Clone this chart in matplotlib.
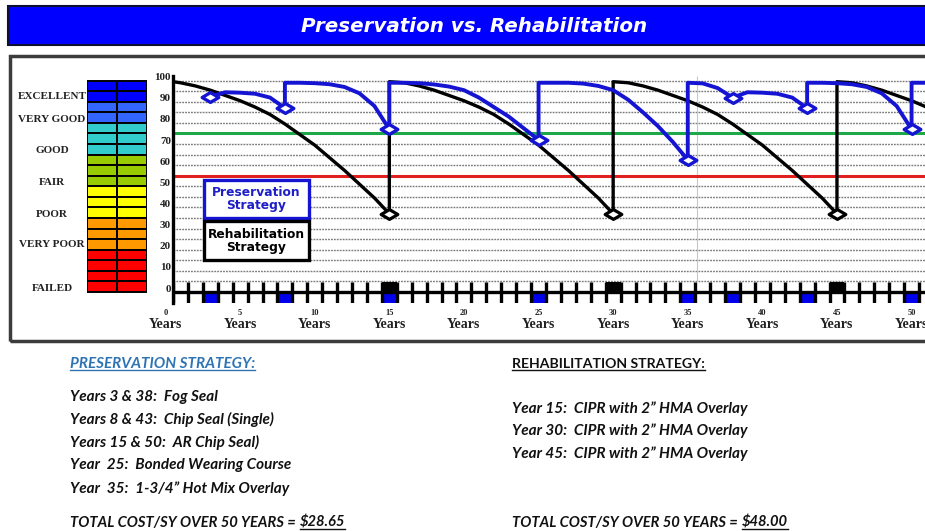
import matplotlib
matplotlib.use("Agg")
import matplotlib.pyplot as plt
import matplotlib.transforms as mtransforms
from matplotlib.patches import Rectangle
from matplotlib.lines import Line2D
from matplotlib.path import Path

# --- data ---
# rehabilitation strategy (black line), condition index by year
rehab_years = [0.5, 1, 2, 3, 4, 5, 6, 7, 8, 9, 10, 11, 12, 13, 14, 15,
               15, 16, 17, 18, 19, 20, 21, 22, 23, 24, 25, 26, 27, 28, 29, 30,
               30, 31, 32, 33, 34, 35, 36, 37, 38, 39, 40, 41, 42, 43, 44, 45,
               45, 46, 47, 48, 49, 50, 51]
rehab_values = [99.5, 99, 97.5, 95.5, 93, 90.5, 87.5, 84, 79.5, 74.5, 69.5, 63.5, 57.5, 51, 44.5, 37,
                99.5, 99, 97.5, 95.5, 93, 90.5, 87.5, 84, 79.5, 74.5, 69.5, 63.5, 57.5, 51, 44.5, 37,
                99.5, 99, 97.5, 95.5, 93, 90.5, 87.5, 84, 79.5, 74.5, 69.5, 63.5, 57.5, 51, 44.5, 37,
                99.5, 99, 97.5, 95.5, 93, 90.5, 87.5]
rehab_treat_years = [15, 30, 45]
rehab_treat_values = [37, 37, 37]

# preservation strategy (blue line)
pres_years = [3, 4, 5, 6, 7, 8,
              8, 9, 10, 11, 12, 13, 14, 15,
              15, 16, 17, 18, 19, 20, 21, 22, 23, 24, 25,
              25, 26, 27, 28, 29, 30, 31, 32, 33, 34, 35,
              35, 36, 37, 38,
              39, 40, 41, 42, 43,
              43, 44, 45, 46, 47, 48, 49, 50,
              50, 51]
pres_values = [92.5, 94.5, 94.3, 93.8, 92, 87,
               99, 99, 98.8, 98.3, 97, 94, 88, 77,
               99, 99, 98.8, 98.2, 97.2, 95.5, 92, 87.5, 83, 77.5, 72,
               99, 99, 99, 98.6, 97.5, 95.5, 91, 85, 78.5, 71, 62.5,
               99, 98.7, 96.5, 92,
               94.5, 94.3, 93.8, 92, 87,
               99, 99, 98.8, 98.3, 97, 94, 88, 77,
               99, 99]
pres_treat_years = [3, 8, 15, 25, 35, 38, 43, 50]
pres_treat_values = [92.5, 87, 77, 72, 62.5, 92, 87, 77]

grid_levels = list(range(5, 101, 5))
good_line = 75
fair_line = 55
y_ticks = list(range(0, 101, 10))
year_ticks = list(range(0, 51, 5))
stray_line_year = 35.6

condition_labels = ["EXCELLENT", "VERY GOOD", "GOOD", "FAIR", "POOR", "VERY POOR", "FAILED"]
condition_levels = [92.3, 81.7, 66.9, 52, 36.9, 22.3, 1.7]
scale_colors = (["#0000FF"] * 2 + ["#3366FF"] * 2 + ["#33CCCC"] * 3 + ["#99CC00"] * 3
                + ["#FFFF00"] * 3 + ["#FF9900"] * 3 + ["#FF0000"] * 4)

pres_header = "PRESERVATION STRATEGY:"
pres_items = ["Years 3 & 38:  Fog Seal",
              "Years 8 & 43:  Chip Seal (Single)",
              "Years 15 & 50:  AR Chip Seal)",
              "Year  25:  Bonded Wearing Course",
              "Year  35:  1-3/4\u201d Hot Mix Overlay"]
pres_total = "\\$28.65"
rehab_header = "REHABILITATION STRATEGY:"
rehab_items = ["Year 15:  CIPR with 2\u201d HMA Overlay",
               "Year 30:  CIPR with 2\u201d HMA Overlay",
               "Year 45:  CIPR with 2\u201d HMA Overlay"]
rehab_total = "\\$48.00"
total_prefix = "TOTAL COST/SY OVER 50 YEARS ="

BLUE = "#1414D2"
W, H = 925, 531


def fx(px):
    return px / W


def fy(py):
    return 1 - py / H


fig = plt.figure(figsize=(W / 100, H / 100), dpi=100)
fig.patch.set_facecolor("white")

# title bar
fig.add_artist(Rectangle((fx(8), fy(45)), 1.0, fy(6) - fy(45), transform=fig.transFigure,
                         facecolor="#0000FF", edgecolor="#101030", lw=1.5))
fig.text(fx(474), fy(26), "Preservation vs. Rehabilitation", color="white", fontsize=14.3,
         weight="bold", style="italic", family="DejaVu Sans", ha="center", va="center")

# chart frame
fig.add_artist(Rectangle((fx(10), fy(341)), 1.0, fy(56) - fy(341), transform=fig.transFigure,
                         fill=False, edgecolor="#3c3c3c", lw=2.5))

Y0, Y1 = -5.2, 102.2
X0, X1 = 0.5, 50.9
ax = fig.add_axes([fx(173), fy(303), 1 - fx(173), fy(76) - fy(303)])
ax.set_xlim(X0, X1)
ax.set_ylim(Y0, Y1)
ax.axis("off")

for g in grid_levels:
    ax.axhline(g, color="#7a7a7a", lw=1.0, ls=(0, (1.3, 0.8)), zorder=1)
ax.axhline(good_line, color="#1EA84A", lw=2.2, zorder=2)
ax.axhline(fair_line, color="#E02020", lw=2.2, zorder=2)
ax.vlines(stray_line_year, 5, Y1, color="#c8c8c8", lw=0.8, zorder=1)

# treatment markers under / over the axis
ax.bar(pres_treat_years, -Y0, bottom=Y0, width=1, color="#0000EE", zorder=3)
ax.bar(rehab_treat_years, 4.7, bottom=0, width=1, color="black", zorder=3)

ax.axhline(0, color="black", lw=2.4, zorder=4)
ax.plot([X0, X0], [Y0, Y1], color="black", lw=2.4, zorder=4, clip_on=False)
ax.vlines([k + 0.5 for k in range(0, 51)], Y0, 4.7, colors="black", lw=2.4, zorder=4)

ax.plot(rehab_years, rehab_values, color="black", lw=2.4, zorder=5,
        solid_joinstyle="round", solid_capstyle="butt")
ax.plot(pres_years, pres_values, color=BLUE, lw=2.8, zorder=6,
        solid_joinstyle="round", solid_capstyle="butt")

diamond = Path([(0, 1), (1.7, 0), (0, -1), (-1.7, 0), (0, 1)],
               [Path.MOVETO, Path.LINETO, Path.LINETO, Path.LINETO, Path.CLOSEPOLY])
ax.plot(rehab_treat_years, rehab_treat_values, ls="none", marker=diamond, ms=12,
        mfc="white", mec="black", mew=2.3, zorder=7)
ax.plot(pres_treat_years, pres_treat_values, ls="none", marker=diamond, ms=12,
        mfc="white", mec=BLUE, mew=2.4, zorder=8)

serif = "Liberation Serif"
t_x = mtransforms.blended_transform_factory(ax.transData, fig.transFigure)
for yr in year_ticks:
    ax.text(yr, fy(313), str(yr), transform=t_x, ha="center", va="center",
            fontsize=6, family=serif, weight="bold", color="#222222")
    ax.text(yr, fy(324), "Years", transform=t_x, ha="center", va="center",
            fontsize=10, family=serif, weight="bold", color="#222222")

t_y = mtransforms.blended_transform_factory(fig.transFigure, ax.transData)
t_y_up = mtransforms.offset_copy(t_y, fig=fig, x=0, y=3, units="dots")
for v in y_ticks:
    ax.text(fx(171), v, str(v), transform=t_y_up, ha="right", va="center",
            fontsize=8, family=serif, weight="bold", color="#222222")

# condition color scale
ax_bar = fig.add_axes([fx(87), fy(303), fx(147) - fx(87), fy(76) - fy(303)])
ax_bar.set_xlim(0, 2)
ax_bar.set_ylim(Y0, Y1)
ax_bar.axis("off")
for i, c in enumerate(scale_colors):
    top = 100 - 5 * i
    for col in (0, 1):
        ax_bar.add_patch(Rectangle((col, top - 5), 1, 5, facecolor=c,
                                   edgecolor="black", lw=1.4))
t_bar = mtransforms.blended_transform_factory(fig.transFigure, ax_bar.transData)
for lab, lev in zip(condition_labels, condition_levels):
    ax_bar.text(fx(52), lev, lab, transform=t_bar, ha="center", va="center",
                fontsize=8, family=serif, weight="bold", color="#222222", clip_on=False)

# legend boxes
fig.add_artist(Rectangle((fx(204), fy(218)), fx(309) - fx(204), fy(180) - fy(218),
                         transform=fig.transFigure, facecolor="white", edgecolor=BLUE,
                         lw=2.4, zorder=10))
fig.text(fx(256.5), fy(199), "Preservation\nStrategy", ha="center", va="center",
         color="#1F1FC8", fontsize=8.8, weight="bold", family="DejaVu Sans",
         linespacing=1.0, zorder=11)
fig.add_artist(Rectangle((fx(204), fy(260)), fx(309) - fx(204), fy(221) - fy(260),
                         transform=fig.transFigure, facecolor="white", edgecolor="black",
                         lw=2.4, zorder=10))
fig.text(fx(256.5), fy(240.5), "Rehabilitation\nStrategy", ha="center", va="center",
         color="black", fontsize=8.8, weight="bold", family="DejaVu Sans",
         linespacing=1.0, zorder=11)

# notes below the chart
note_font = dict(family="Lato", weight="bold", style="italic", fontsize=11, va="baseline")
underlined = []
h1 = fig.text(fx(70), fy(367.5), pres_header, color="#2E74B5", **note_font)
underlined.append((h1, "#2E74B5"))
for txt, yb in zip(pres_items, [401.5, 424, 447, 469.5, 492.5]):
    fig.text(fx(70), fy(yb), txt, color="#111111", **note_font)
p1 = fig.text(fx(70), fy(526.5), total_prefix, color="#111111",
              **{**note_font, "fontsize": 10.6})

h2 = fig.text(fx(512), fy(367.5), rehab_header, color="#111111",
              **{**note_font, "style": "normal", "fontsize": 10.1})
underlined.append((h2, "#111111"))
for txt, yb in zip(rehab_items, [413, 435, 458]):
    fig.text(fx(512), fy(yb), txt, color="#111111", **note_font)
p2 = fig.text(fx(512), fy(526.5), total_prefix, color="#111111",
              **{**note_font, "fontsize": 10.6})

fig.canvas.draw()
r = fig.canvas.get_renderer()
for pref, amount in ((p1, pres_total), (p2, rehab_total)):
    bb = pref.get_window_extent(r)
    a = fig.text((bb.x1 + 4) / W, fy(526.5), amount, color="#111111",
                 **{**note_font, "fontsize": 10.6})
    underlined.append((a, "#111111"))
fig.canvas.draw()
for t, col in underlined:
    bb = t.get_window_extent(r)
    x0, yb = t.get_position()
    y_line = yb - 2.5 / H
    fig.add_artist(Line2D([bb.x0 / W, bb.x1 / W], [y_line, y_line],
                          transform=fig.transFigure, color=col, lw=1.0))

fig.savefig("out.png", dpi=100, facecolor="white")
